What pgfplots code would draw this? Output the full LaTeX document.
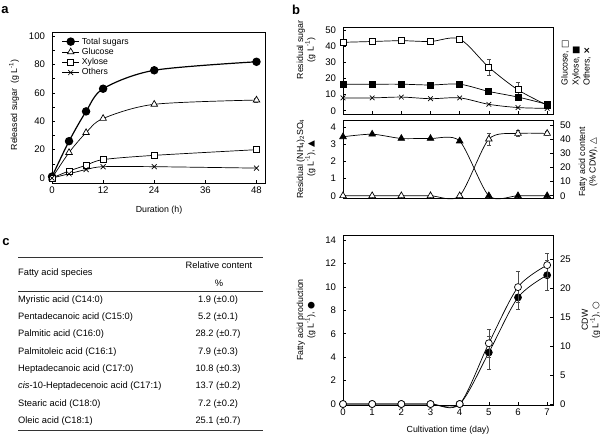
\documentclass[border=0pt]{standalone}
\usepackage{fontspec}
\setmainfont{Liberation Sans}
\newfontfamily\sym{DejaVu Sans}
\usepackage{pgfplots}
\pgfplotsset{compat=1.18}

\pgfplotsset{
  base/.style={
    scale only axis, anchor=south west,
    tick align=inside, major tick length=3pt,
    axis line style={line width=0.9pt},
    tick style={black, line width=0.6pt},
    /pgf/number format/assume math mode=true,
    ticklabel style={font=\fontsize{9.6}{10}\selectfont},
    yticklabel style={xshift=-3.5pt},
    clip=false,
  },
  rightax/.style={axis x line=none, axis y line*=right,
    yticklabel style={xshift=7pt}},
  eb/.style={error bars/.cd, y dir=both, y explicit,
    error bar style={line width=0.5pt, black!70},
    error mark options={rotate=90, mark size=2pt, black!70, line width=0.5pt}},
}
\tikzset{lbl/.style={font=\fontsize{8.8}{10.5}\selectfont, align=center}}

\begin{document}
\begin{tikzpicture}
\useasboundingbox (0,0) rectangle (600pt,-442pt);

% ---------- panel a
\begin{axis}[base, at={(52pt,-183pt)}, width=213pt, height=151pt,
  xmin=0, xmax=50, ymin=-3.5, ymax=103,
  xtick={0,12,24,36,48}, ytick={0,20,...,100}, minor y tick num=1,
  tick pos=left,
  legend style={draw=none, fill=none, at={(0.03,0.99)}, anchor=north west,
    font=\fontsize{8.7}{9}\selectfont, row sep=-1.5pt},
  legend cell align=left]
\addplot[black, line width=1.2pt, smooth, mark=*, mark size=3.6pt]
  coordinates {(0,1)(4,26)(8,47)(12,63)(24,76)(48,82)};
\addlegendentry{Total sugars}
\addplot[black, line width=0.7pt, smooth, mark=triangle*, mark size=3.8pt,
  mark options={fill=white}, eb]
  coordinates {(0,0)(4,18)(8,32)(12,42)(24,52)(48,55) +- (0,1.5)};
\addlegendentry{Glucose}
\addplot[black, line width=0.7pt, smooth, mark=square*, mark size=3pt,
  mark options={fill=white}]
  coordinates {(0,0)(4,5)(8,9)(12,13)(24,16)(48,20)};
\addlegendentry{Xylose}
\addplot[black, line width=0.7pt, smooth, mark=x, mark size=3.5pt]
  coordinates {(0,0)(4,3)(8,6)(12,8)(24,8)(48,7)};
\addlegendentry{Others}
\end{axis}
\node[lbl, rotate=90] at (14pt,-105pt) {Released sugar\ \ (g L\textsuperscript{-1})};
\node[lbl] at (159pt,-210pt) {Duration (h)};

% ---------- panel b, top
\begin{axis}[base, at={(343pt,-114pt)}, width=210pt, height=87pt,
  xmin=0, xmax=7.2, ymin=-2, ymax=52,
  xtick={0,...,7}, xticklabels={}, ytick={0,10,...,50},
  xtick pos=bottom, ytick pos=left]
\addplot[black, line width=0.7pt, smooth, mark=square*, mark size=3pt,
  mark options={fill=white}, eb]
  coordinates {(0,42.5)(1,43)(2,43.5)(3,43)(4,44.5)(5,27) +- (0,5)(6,13) +- (0,5)(7,3.5) +- (0,2)};
\addplot[black, line width=0.7pt, smooth, mark=square*, mark size=3pt]
  coordinates {(0,16.5)(1,16.5)(2,16.5)(3,16)(4,16.5)(5,12)(6,8.5)(7,4)};
\addplot[black, line width=0.7pt, smooth, mark=x, mark size=3.3pt]
  coordinates {(0,8)(1,8)(2,8.5)(3,7.5)(4,8)(5,4)(6,2)(7,1.5)};
\end{axis}
\node[lbl, rotate=90] at (306pt,-50pt) {Residual sugar\\(g L\textsuperscript{-1})};
\node[lbl, rotate=90, anchor=west, align=left, font=\fontsize{8.8}{11}\selectfont]
  at (576pt,-89pt) {Glucose, {\sym □}\\Xylose, {\sym ■}\\Others, {\sym\bfseries ×}};

% ---------- panel b, bottom
\begin{axis}[base, at={(343pt,-198pt)}, width=210pt, height=78pt,
  xmin=0, xmax=7.2, ymin=-0.13, ymax=4.43,
  xtick={0,...,7}, xticklabels={}, ytick={0,...,4},
  xtick pos=bottom, ytick pos=left]
\addplot[black, line width=0.7pt, smooth, tension=0.45, mark=triangle*, mark size=3.8pt]
  coordinates {(0,3.45)(1,3.6)(2,3.35)(3,3.35)(4,3.2)(5,0)(6,0)(7,0)};
\end{axis}
\begin{axis}[base, rightax, at={(343pt,-198pt)}, width=210pt, height=78pt,
  xmin=0, xmax=7.2, ymin=-1.6, ymax=53.5, ytick={0,10,...,50}]
\addplot[black, line width=0.7pt, smooth, tension=0.45, mark=triangle*, mark size=3.8pt,
  mark options={fill=white}, eb]
  coordinates {(0,0)(1,0)(2,0)(3,0)(4,0)(5,40) +- (0,4)(6,44) +- (0,2)(7,44) +- (0,1.5)};
\end{axis}
\node[lbl, rotate=90] at (306pt,-159pt) {Residual (NH\textsubscript{4})\textsubscript{2}SO\textsubscript{4}\\(g L\textsuperscript{-1}), {\sym ▲}};
\node[lbl, rotate=90] at (588pt,-162pt) {Fatty acid content\\(\% CDW), {\sym △}};

% ---------- bottom right
\begin{axis}[base, at={(343pt,-405pt)}, width=210pt, height=170pt,
  xmin=0, xmax=7.2, ymin=-0.085, ymax=14.43,
  xtick={0,...,7}, ytick={0,2,...,14},
  xtick pos=bottom, ytick pos=left]
\addplot[black, line width=0.7pt, smooth, mark=*, mark size=3.5pt, eb]
  coordinates {(0,0)(1,0)(2,0)(3,0)(4,0)(5,4.4) +- (0,1.4)(6,9.1) +- (0,1.0)(7,11) +- (0,1.3)};
\end{axis}
\begin{axis}[base, rightax, at={(343pt,-405pt)}, width=210pt, height=170pt,
  xmin=0, xmax=7.2, ymin=-0.17, ymax=29.2, ytick={0,5,...,25}]
\addplot[black, line width=0.7pt, smooth, mark=*, mark size=3.5pt,
  mark options={fill=white}, eb]
  coordinates {(0,0)(1,0)(2,0)(3,0)(4,0)(5,10.5) +- (0,2.4)(6,20.2) +- (0,2.7)(7,24) +- (0,2.1)};
\end{axis}
\node[lbl, rotate=90] at (306pt,-320pt) {Fatty acid production\\(g L\textsuperscript{-1}), {\sym ●}};
\node[lbl, rotate=90] at (591pt,-320pt) {CDW\\(g L\textsuperscript{-1}), {\sym ○}};
\node[lbl] at (448pt,-430pt) {Cultivation time (day)};

% ---------- panel c (table)
\begin{scope}[font=\fontsize{9.3}{11}\selectfont]
\draw[line width=0.7pt, black!80] (18pt,-257pt) -- (263pt,-257pt);
\draw[line width=0.7pt, black!80] (18pt,-291pt) -- (263pt,-291pt);
\draw[line width=0.7pt, black!80] (18pt,-430pt) -- (263pt,-430pt);
\node[anchor=west, inner sep=0pt] at (18pt,-273pt) {Fatty acid species};
\node at (219pt,-265pt) {Relative content};
\node at (219pt,-283pt) {\%};
\foreach \n/\v [count=\i from 0] in {
  Myristic acid (C14:0)/1.9 (±0.0),
  Pentadecanoic acid (C15:0)/5.2 (±0.1),
  Palmitic acid (C16:0)/28.2 (±0.7),
  Palmitoleic acid (C16:1)/7.9 (±0.3),
  Heptadecanoic acid (C17:0)/10.8 (±0.3),
  \textit{cis}-10-Heptadecenoic acid (C17:1)/13.7 (±0.2),
  Stearic acid (C18:0)/7.2 (±0.2),
  Oleic acid (C18:1)/25.1 (±0.7)} {
  \node[anchor=west, inner sep=0pt] at (18pt,-300pt-\i*17.28pt) {\n};
  \node at (218pt,-300pt-\i*17.28pt) {\v};
}
\end{scope}

% panel letters
\node[font=\fontsize{13}{13}\bfseries] at (5pt,-10pt) {a};
\node[font=\fontsize{13}{13}\bfseries] at (296pt,-10pt) {b};
\node[font=\fontsize{13}{13}\bfseries] at (6pt,-242pt) {c};
\end{tikzpicture}
\end{document}
